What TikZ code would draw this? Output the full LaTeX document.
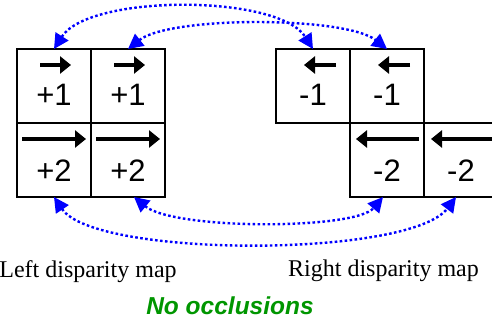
\documentclass[tikz,border=0pt]{standalone}
\usepackage{fontspec}
\setmainfont{Liberation Serif}
\setsansfont{Liberation Sans}
\usetikzlibrary{positioning,arrows.meta}

\definecolor{occgreen}{RGB}{0,150,0}

\tikzset{
  cell/.style={draw, line width=1.4pt, minimum size=74pt, inner sep=0pt, outer sep=0pt},
  num/.style={font=\sffamily\fontsize{31}{34}\selectfont, inner sep=0pt},
  dir/.style={line width=4pt, -{Triangle[length=11pt,width=17pt]}},
  link/.style={blue, line width=2.4pt, dash pattern=on 2.6pt off 2.4pt,
    {Triangle[length=15pt,width=15pt]}-{Triangle[length=15pt,width=15pt]}},
  maplabel/.style={font=\fontsize{24}{28}\selectfont, inner sep=0pt, anchor=base},
}

\begin{document}
\begin{tikzpicture}[x=1pt, y=-1pt]

\useasboundingbox (0,0) rectangle (492,320);
\clip (0,0) rectangle (492,320);

% -----------------------------
% Left disparity map
% -----------------------------
\node[cell] (L11) at (54,86) {};
\node[cell, right=0pt of L11] (L12) {};
\node[cell, below=0pt of L11] (L21) {};
\node[cell, right=0pt of L21] (L22) {};

\node[num] (n11) at ([yshift=-9pt]L11.center) {+1};
\node[num] (n12) at ([yshift=-9pt]L12.center) {+1};
\node[num] (n21) at ([yshift=-11pt]L21.center) {+2};
\node[num] (n22) at ([yshift=-11pt]L22.center) {+2};

% short and long arrows pointing right
\draw[dir] ([shift={(-14pt,21pt)}]L11.center) -- ([shift={(17pt,21pt)}]L11.center);
\draw[dir] ([shift={(-14pt,21pt)}]L12.center) -- ([shift={(17pt,21pt)}]L12.center);
\draw[dir] ([shift={(-32pt,21pt)}]L21.center) -- ([shift={(32pt,21pt)}]L21.center);
\draw[dir] ([shift={(-32pt,21pt)}]L22.center) -- ([shift={(32pt,21pt)}]L22.center);

% -----------------------------
% Right disparity map
% -----------------------------
\node[cell] (R11) at (313,86) {};
\node[cell, right=0pt of R11] (R12) {};
\node[cell, below=0pt of R12] (R21) {};
\node[cell, right=0pt of R21] (R22) {};

\node[num] (m11) at ([yshift=-9pt]R11.center) {-1};
\node[num] (m12) at ([yshift=-9pt]R12.center) {-1};
\node[num] (m21) at ([yshift=-11pt]R21.center) {-2};
\node[num] (m22) at ([yshift=-11pt]R22.center) {-2};

% arrows pointing left
\draw[dir] ([shift={(23pt,21pt)}]R11.center) -- ([shift={(-9pt,21pt)}]R11.center);
\draw[dir] ([shift={(23pt,21pt)}]R12.center) -- ([shift={(-9pt,21pt)}]R12.center);
\draw[dir] ([shift={(32pt,21pt)}]R21.center) -- ([shift={(-31pt,21pt)}]R21.center);
\draw[dir] ([shift={(34pt,21pt)}]R22.center) -- ([shift={(-30pt,21pt)}]R22.center);

% -----------------------------
% Correspondences (dotted)
% -----------------------------
\draw[link] (L11.north) .. controls +(35,-55) and +(-35,-55) .. (R11.north);
\draw[link] (L12.north) .. controls +(42,-33) and +(-42,-33) .. (R12.north);
\draw[link] (L21.south) .. controls +(41,61) and +(-46,61) .. ([xshift=-5pt]R22.south);
\draw[link] ([xshift=6pt]L22.south) .. controls +(40,33) and +(-28,33) .. ([xshift=-4pt]R21.south);

% labels
\node[maplabel] (lefttext) at (88,277) {Left disparity map};
\node[maplabel] (righttext) at (383.5,276) {Right disparity map};
\node[maplabel, font=\sffamily\bfseries\itshape\fontsize{24.5}{28}\selectfont, text=occgreen]
  (occtext) at (230,314) {No occlusions};

\end{tikzpicture}
\end{document}
